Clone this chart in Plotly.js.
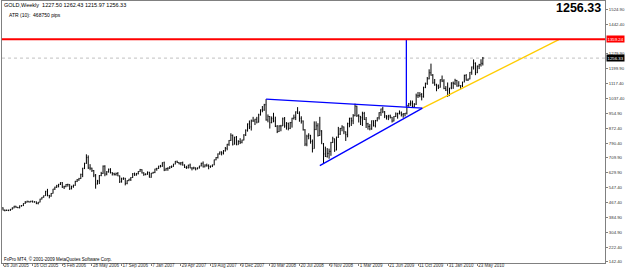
<!DOCTYPE html>
<html><head><meta charset="utf-8">
<script src="https://cdn.plot.ly/plotly-3.0.1.min.js"></script>
<style>html,body{margin:0;padding:0;background:#fff}#chart{width:625px;height:271px}</style>
</head><body><div id="chart"></div>
<script>
// Weekly GOLD bars, one per week starting Sunday 26 Jun 2005 (260 weeks)
const firstWeek = '2005-06-26';
const openP = [
437,424,423,423,424,429,436,446,440,438,448,449,461,468,473,469,473,469,470,461,468,485,495,504,528,505,501,
516,540,550,557,566,575,551,553,565,565,542,555,560,582,590,597,620,654,680,712,655,654,641,616,567,584,614,625,665,622,634,648,630,624,620,625,612,580,596,599,571,586,594,603,624,617,624,636,646,628,620,621,
632,604,627,631,650,653,666,664,684,644,652,654,661,663,676,692,685,678,684,671,658,657,671,655,655,656,650,656,666,681,661,671,668,663,666,672,700,712,732,743,737,749,763,785,806,834,785,824,782,800,796,808,
836,862,896,880,912,912,922,906,946,973,972,1001,918,937,903,925,912,883,854,885,885,924,885,900,872,903,927,932,962,954,927,912,864,786,829,834,800,761,866,886,833,858,787,732,718,735,746,794,815,753,823,840,
872,880,853,838,898,927,913,941,993,942,938,930,953,921,897,882,869,914,886,914,930,958,978,963,940,935,940,933,912,937,951,954,956,947,952,955,996,1006,1010,992,1004,1050,1051,1056,1045,1095,1118,1143,1176,1163,1121,1110,1104,
1096,1138,1131,1090,1081,1051,1093,1120,1118,1134,1103,1106,1105,1125,1161,1136,1142,1179,1208,1228,1176,1212,1220,1227.50];
const highP = [
440,428,428,427,431,440,448,448,442,450,452,462,474,476,474,476,477,473,472,469,487,496,505,530,541,508,518,
541,553,563,568,577,578,558,567,569,566,558,564,585,595,601,624,656,684,730,724,676,657,644,622,590,616,634,669,670,638,652,654,632,629,630,633,614,602,604,601,588,596,605,627,630,628,638,650,648,632,626,636,
634,628,634,651,656,667,672,686,690,656,659,665,669,678,693,695,688,688,690,675,667,673,679,659,662,658,658,667,684,691,675,679,675,668,674,701,715,735,745,746,753,770,787,808,845,838,826,830,807,818,810,840,
866,899,915,920,935,924,935,952,976,994,1006,1032,948,939,937,957,936,890,889,891,931,934,906,903,907,930,947,965,988,965,938,915,868,837,845,836,811,910,910,900,935,862,792,772,764,761,798,826,816,827,880,874,
889,882,855,903,930,931,950,1007,996,949,939,963,962,934,902,895,915,915,918,932,960,980,990,966,944,946,947,934,939,959,957,970,964,955,956,1001,1011,1025,1024,1010,1062,1071,1070,1065,1100,1122,1153,1195,1226,1169,1142,1116,1112,
1140,1161,1141,1103,1123,1093,1124,1128,1143,1137,1130,1107,1127,1166,1169,1144,1180,1210,1249,1233,1216,1225,1250,1262.43];
const lowP = [
423,418,420,419,421,428,435,437,435,434,444,447,459,466,466,468,466,466,457,456,467,483,493,503,500,489,498,
515,535,546,549,562,546,540,550,553,535,538,547,558,578,585,595,605,649,678,650,643,633,605,542,565,567,610,623,610,615,630,625,614,614,613,610,573,575,590,560,566,583,584,601,612,613,620,634,625,612,615,618,
603,602,624,627,640,650,658,662,638,640,640,650,655,662,675,682,675,670,668,655,650,652,654,642,648,642,648,652,664,658,659,662,648,656,660,670,697,707,728,724,729,745,752,776,803,778,784,780,782,786,790,806,
830,854,868,860,908,890,899,904,942,960,968,914,905,871,900,905,879,846,852,856,885,875,865,861,868,876,920,917,951,908,898,860,775,774,812,788,740,761,862,827,831,787,681,715,712,706,722,792,743,752,820,836,
856,840,803,823,878,885,895,938,934,904,890,885,918,874,865,861,864,882,877,910,920,940,955,928,920,917,926,904,910,934,925,948,937,930,937,948,990,995,985,988,1000,1038,1042,1025,1040,1092,1110,1140,1160,1116,1105,1075,1087,
1095,1125,1086,1076,1044,1050,1086,1088,1109,1100,1101,1086,1098,1124,1133,1131,1140,1165,1194,1163,1174,1196,1210,1215.97];
const closeP = [
424,423,423,424,429,436,446,440,438,448,449,461,468,473,469,473,469,470,461,468,485,495,504,528,505,501,516,
540,550,557,566,575,551,553,565,565,542,555,560,582,590,597,620,654,680,712,655,654,641,616,567,584,614,625,665,622,634,648,630,624,620,625,612,580,596,599,571,586,594,603,624,617,624,636,646,628,620,621,632,
604,627,631,650,653,666,664,684,644,652,654,661,663,676,692,685,678,684,671,658,657,671,655,655,656,650,656,666,681,661,671,668,663,666,672,700,712,732,743,737,749,763,785,806,834,785,824,782,800,796,808,836,
862,896,880,912,912,922,906,946,973,972,1001,918,937,903,925,912,883,854,885,885,924,885,900,872,903,927,932,962,954,927,912,864,786,829,834,800,761,866,886,833,858,787,732,718,735,746,794,815,753,823,840,872,
880,853,838,898,927,913,941,993,942,938,930,953,921,897,882,869,914,886,914,930,958,978,963,940,935,940,933,912,937,951,954,956,947,952,955,996,1006,1010,992,1004,1050,1051,1056,1045,1095,1118,1143,1176,1163,1121,1110,1104,1096,
1138,1131,1090,1081,1051,1093,1120,1118,1134,1103,1106,1105,1125,1161,1136,1142,1179,1208,1228,1176,1212,1220,1228,1256.33];

// axis labels
const xTickDates = ['2005-06-26','2005-10-16','2006-02-05','2006-05-28','2006-09-17','2007-01-07','2007-04-29','2007-08-19','2007-12-09','2008-03-30','2008-07-20','2008-11-09','2009-03-01','2009-06-21','2009-10-11','2010-01-31','2010-05-23'];
const xTickLabels = ['26 Jun 2005','16 Oct 2005','5 Feb 2006','28 May 2006','17 Sep 2006','7 Jan 2007','29 Apr 2007','19 Aug 2007','9 Dec 2007','30 Mar 2008','20 Jul 2008','9 Nov 2008','1 Mar 2009','21 Jun 2009','11 Oct 2009','31 Jan 2010','23 May 2010'];
const yTickVals = [1524.90,1442.40,1279.90,1199.90,1117.40,1037.40,954.90,872.40,790.40,709.90,629.90,547.40,467.40,384.90,304.90,222.40,142.40];
const yTickLabels = yTickVals.map(v => v.toFixed(2));

// drawn objects (data units)
const resistanceLevel = 1359.24;
const currentPrice = 1256.33;
const triUpperX = ['2008-03-16','2009-10-28'], triUpperY = [1032, 983];
const triLowerX = ['2008-10-05','2009-10-28'], triLowerY = [668, 983];
const breakoutX = ['2009-08-28','2009-08-28'], breakoutY = [990, 1359.24];
const trendX = ['2009-10-28','2011-03-27'], trendY = [983, 1357];

const headerText = 'GOLD,Weekly  1227.50 1262.43 1215.97 1256.33';
const atrText = 'ATR (10):  468750 pips';
const footerText = 'FxPro MT4, © 2001-2009 MetaQuotes Software Corp.';

const dates = openP.map((_, i) => {
  const d = new Date(firstWeek + 'T00:00:00Z');
  d.setUTCDate(d.getUTCDate() + 7 * i);
  return d.toISOString().slice(0, 10);
});

const F = 'Liberation Sans, Arial, sans-serif';
const traces = [
  {type:'ohlc', x:dates, open:openP, high:highP, low:lowP, close:closeP,
   increasing:{line:{color:'#000000', width:1}}, decreasing:{line:{color:'#000000', width:1}},
   tickwidth:0.3, hoverinfo:'none', showlegend:false},
  {type:'scatter', mode:'lines', x:triUpperX, y:triUpperY, line:{color:'#0000ff', width:1.3}, hoverinfo:'none', showlegend:false},
  {type:'scatter', mode:'lines', x:triLowerX, y:triLowerY, line:{color:'#0000ff', width:1.3}, hoverinfo:'none', showlegend:false},
  {type:'scatter', mode:'lines', x:breakoutX, y:breakoutY, line:{color:'#0000ff', width:1.3}, hoverinfo:'none', showlegend:false},
  {type:'scatter', mode:'lines', x:trendX, y:trendY, line:{color:'#ffcc00', width:1.3}, hoverinfo:'none', showlegend:false}
];

const layout = {
  width:625, height:271,
  margin:{l:2, r:20, t:1, b:8},
  paper_bgcolor:'#ffffff', plot_bgcolor:'#ffffff',
  showlegend:false,
  xaxis:{type:'date', range:['2005-06-22 05:00','2011-09-17 12:00'], rangeslider:{visible:false},
    showgrid:false, zeroline:false, showline:true, mirror:true, linecolor:'#808080', linewidth:1,
    tickmode:'array', tickvals:xTickDates, ticktext:xTickLabels, ticks:'outside', ticklen:2, tickcolor:'#808080',
    tickangle:0, ticklabelposition:'outside right', ticklabelstandoff:-2,
    tickfont:{family:F, size:4.5, color:'#333333'}},
  yaxis:{side:'right', range:[135.3, 1568.7], showgrid:false, zeroline:false, showline:true, mirror:true,
    linecolor:'#808080', linewidth:1, tickmode:'array', tickvals:yTickVals, ticktext:yTickLabels,
    ticks:'outside', ticklen:2, tickcolor:'#808080', ticklabelstandoff:0,
    tickfont:{family:F, size:4.3, color:'#333333'}},
  shapes:[
    {type:'line', xref:'paper', x0:0, x1:1, yref:'y', y0:resistanceLevel, y1:resistanceLevel, line:{color:'#ff0000', width:2}},
    {type:'line', xref:'paper', x0:0, x1:1, yref:'y', y0:currentPrice, y1:currentPrice, line:{color:'#c0c0c0', width:1, dash:'dot'}, layer:'below'}
  ],
  annotations:[
    {xref:'paper', yref:'paper', x:0, y:0.985, xanchor:'left', yanchor:'middle', showarrow:false, text:headerText, font:{family:F, size:5.5, color:'#000'}},
    {xref:'paper', yref:'paper', x:0, xshift:5, y:0.947, xanchor:'left', yanchor:'middle', showarrow:false, text:atrText, font:{family:F, size:5, color:'#000'}},
    {xref:'paper', yref:'paper', x:0, y:0.014, xanchor:'left', yanchor:'middle', showarrow:false, text:footerText, font:{family:F, size:4.5, color:'#000'}},
    {xref:'paper', yref:'paper', x:1, xshift:-2, y:0.972, xanchor:'right', yanchor:'middle', showarrow:false, text:'<b>1256.33</b>', font:{family:F, size:12.5, color:'#000'}},
    {xref:'paper', yref:'y', x:1, xshift:1, y:resistanceLevel, xanchor:'left', yanchor:'middle', showarrow:false, text:'1359.24', bgcolor:'#ff0000', borderpad:0.5, font:{family:F, size:4.3, color:'#ffffff'}},
    {xref:'paper', yref:'y', x:1, xshift:1, y:currentPrice, xanchor:'left', yanchor:'middle', showarrow:false, text:'1256.33', bgcolor:'#000000', borderpad:0.5, font:{family:F, size:4.3, color:'#ffffff'}}
  ]
};

Plotly.newPlot('chart', traces, layout, {displayModeBar:false, staticPlot:true});
</script>
</body></html>
